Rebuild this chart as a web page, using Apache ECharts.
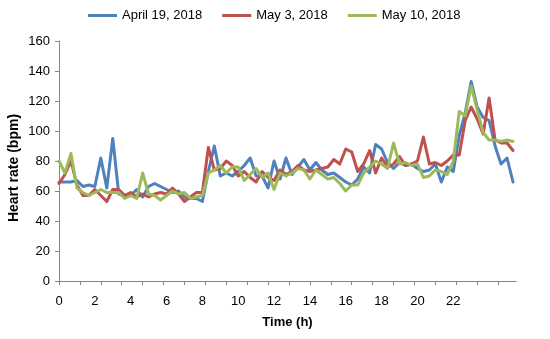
<!DOCTYPE html>
<html>
<head>
<meta charset="utf-8">
<script src="https://cdn.jsdelivr.net/npm/echarts@6/dist/echarts.min.js"></script>
<style>
html,body{margin:0;padding:0;background:#fff;}
#chart{width:550px;height:339px;}
</style>
</head>
<body>
<div id="chart"></div>
<script>
// Heart rate (bpm), sampled every 20 minutes from 0 h
const seriesNames = ['April 19, 2018', 'May 3, 2018', 'May 10, 2018'];
const april19 = [66,66,66,67,63,64,63,82,62,95,58,57,57,61,56,63,65,63,61,59,
  60,56,55,55,53,73,90,70,72,70,73,77,82,70,70,62,80,68,82,71,
  76,81,74,79,74,71,72,69,66,64,68,76,72,91,88,79,75,79,77,78,
  75,73,74,78,66,76,73,97,112,133,116,109,107,90,78,82,66];
const may3 = [65,71,80,64,57,57,61,57,53,61,61,57,59,56,58,56,58,59,58,62,
  58,53,56,59,59,89,74,75,80,77,70,73,69,66,73,69,67,74,71,73,
  77,74,73,74,75,76,81,78,88,86,73,78,87,72,82,76,78,83,77,78,
  80,96,78,79,77,80,84,84,107,116,108,98,122,94,92,92,87];
const may10 = [80,72,85,62,59,57,59,61,59,59,59,55,57,55,72,58,57,54,57,60,
  58,59,55,56,57,72,74,77,72,76,76,67,71,75,69,72,61,72,70,72,
  75,74,68,74,71,68,69,65,60,64,64,72,76,80,78,75,92,78,79,77,
  78,69,70,74,73,71,80,113,110,130,114,99,94,94,93,94,93];
const xTickLabels = [0,2,4,6,8,10,12,14,16,18,20,22];
const yTickLabels = [0,20,40,60,80,100,120,140,160];
const xTitle = 'Time (h)';
const yTitle = 'Heart rate (bpm)';

const times = april19.map((_, i) => i / 3);
const tickHours = Array.from({length: 22}, (_, i) => i * 7 / 6);
const colors = ['#4F81BD', '#C0504D', '#9BBB59'];
const allValues = [april19, may3, may10];
const font = 'Liberation Sans';
const axisColor = '#868686';

const chart = echarts.init(document.getElementById('chart'), null, {renderer: 'canvas'});
chart.setOption({
  animation: false,
  color: colors,
  textStyle: {fontFamily: font},
  legend: {
    top: 4, left: 83,
    icon: 'rect', itemWidth: 29, itemHeight: 3, itemGap: 20,
    textStyle: {fontFamily: font, fontSize: 13, color: '#000'},
    data: seriesNames
  },
  grid: {left: 59, right: 34, top: 41, bottom: 58, containLabel: false},
  xAxis: {
    type: 'value', min: 0, max: 25.5,
    name: xTitle, nameLocation: 'middle', nameGap: 35,
    nameTextStyle: {fontFamily: font, fontSize: 13, fontWeight: 'bold', color: '#000'},
    axisLine: {show: true, onZero: false, lineStyle: {color: axisColor, width: 1}},
    axisTick: {show: true, length: 4, customValues: tickHours, lineStyle: {color: axisColor}},
    axisLabel: {customValues: xTickLabels, margin: 14, fontFamily: font, fontSize: 13, color: '#000'},
    splitLine: {show: false}
  },
  yAxis: {
    type: 'value', min: 0, max: 160, interval: 20,
    axisLine: {show: true, lineStyle: {color: axisColor, width: 1}},
    axisTick: {show: true, length: 4, lineStyle: {color: axisColor}},
    axisLabel: {margin: 9, fontFamily: font, fontSize: 13, color: '#000',
      formatter: v => yTickLabels.includes(v) ? String(v) : ''},
    splitLine: {show: false}
  },
  graphic: [{
    type: 'text', x: 14, y: 168, rotation: Math.PI / 2,
    style: {text: yTitle, fontFamily: font, fontSize: 14, fontWeight: 'bold', fill: '#000',
      align: 'center', verticalAlign: 'middle'}
  }],
  series: allValues.map((vals, s) => ({
    name: seriesNames[s], type: 'line', symbol: 'none', smooth: false,
    lineStyle: {width: 3, color: colors[s], join: 'round', cap: 'round'},
    z: 2 + s,
    data: times.map((t, i) => [t, vals[i]])
  }))
});
</script>
</body>
</html>
